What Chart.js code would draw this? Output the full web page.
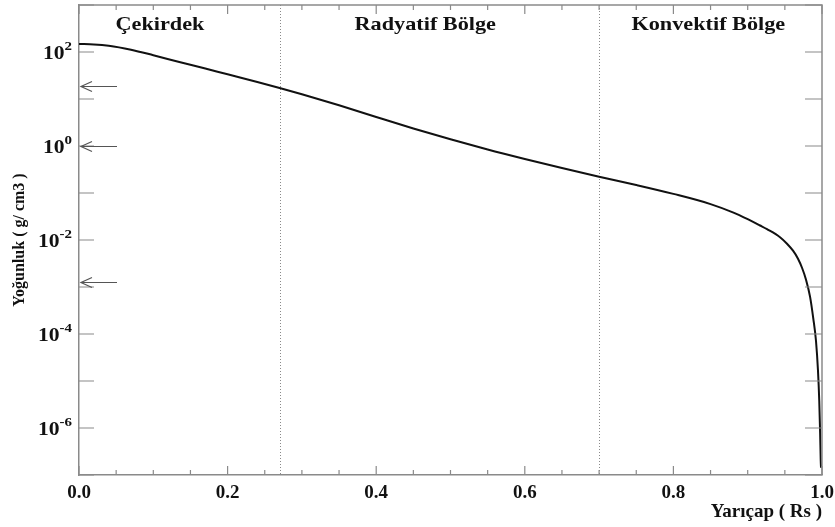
<!DOCTYPE html>
<html><head><meta charset="utf-8">
<script src="https://cdn.jsdelivr.net/npm/chart.js@4"></script>
<style>html,body{margin:0;padding:0;background:#fff;} canvas{display:block;}</style>
</head><body>
<canvas id="c" width="835" height="527"></canvas>
<script>
// ---- data ----
const radius  = [0, 0.02, 0.04, 0.07, 0.1, 0.135, 0.17, 0.2, 0.24, 0.27, 0.3, 0.35, 0.4, 0.45, 0.5, 0.55, 0.6, 0.65, 0.7, 0.75, 0.8, 0.85, 0.88, 0.9, 0.9166, 0.926, 0.9435, 0.9529, 0.961, 0.9677, 0.9731, 0.9785, 0.9839, 0.9883, 0.9919, 0.9946, 0.9963, 0.9975, 0.9983, 0.9987];
const density = [148, 145.1, 136.1, 111.9, 85.5, 61.3, 44.4, 33.5, 23.1, 17.2, 12.65, 7.35, 4.14, 2.36, 1.389, 0.842, 0.529, 0.339, 0.222, 0.148, 0.0957, 0.0581, 0.0387, 0.0277, 0.02035, 0.01698, 0.01147, 0.00834, 0.00592, 0.00400, 0.00257, 0.00143, 0.000622, 0.000212, 0.0000719, 0.0000166, 0.00000381, 0.000000757, 0.000000201, 0.000000143];
const xTickLabels = ['0.0', '0.2', '0.4', '0.6', '0.8', '1.0'];
const yTickExponents = [2, 0, -2, -4, -6];
const zoneBoundaries = [0.27, 0.70];
const zoneNames = ['Çekirdek', 'Radyatif Bölge', 'Konvektif Bölge'];
const zoneLabelRadius = [0.109, 0.466, 0.847];
const arrowValues = [19, 1, 0.0013];

const SERIF = '"Liberation Serif", "Times New Roman", serif';

function stretchText(ctx, text, x, y, font, align, sx) {
  ctx.save();
  ctx.font = font;
  ctx.textAlign = align;
  ctx.textBaseline = 'middle';
  ctx.translate(x, y);
  ctx.scale(sx, 1);
  ctx.fillText(text, 0, 0);
  ctx.restore();
}

const decorPlugin = {
  id: 'decor',
  beforeDatasetsDraw(chart) {
    const {ctx, chartArea: a, scales: {x}} = chart;
    ctx.save();
    ctx.strokeStyle = '#8a8a8a';
    ctx.lineWidth = 1;
    ctx.setLineDash([1, 2]);
    zoneBoundaries.forEach(b => {
      const px = Math.round(x.getPixelForValue(b)) + 0.5;
      ctx.beginPath(); ctx.moveTo(px, a.top); ctx.lineTo(px, a.bottom); ctx.stroke();
    });
    ctx.restore();
  },
  afterDraw(chart) {
    const {ctx, chartArea: a, scales: {x, y}} = chart;
    ctx.save();
    // top and right frame
    ctx.strokeStyle = '#8a8a8a';
    ctx.lineWidth = 1.5;
    ctx.beginPath();
    ctx.moveTo(a.left, a.top); ctx.lineTo(a.right, a.top); ctx.lineTo(a.right, a.bottom);
    ctx.stroke();
    // x ticks (inward, top and bottom)
    ctx.lineWidth = 1.2;
    for (let i = 0; i <= 20; i++) {
      const px = x.getPixelForValue(i * 0.05);
      const len = (i % 4 === 0) ? 9 : 5;
      ctx.beginPath();
      ctx.moveTo(px, a.bottom); ctx.lineTo(px, a.bottom - len);
      ctx.moveTo(px, a.top); ctx.lineTo(px, a.top + len);
      ctx.stroke();
    }
    // y ticks (each decade, left and right)
    for (let e = -7; e <= 3; e++) {
      const py = y.getPixelForValue(Math.pow(10, e));
      ctx.beginPath();
      ctx.moveTo(a.left, py); ctx.lineTo(a.left + 15, py);
      ctx.moveTo(a.right, py); ctx.lineTo(a.right - 17, py);
      ctx.stroke();
    }
    // y tick labels 10^n
    ctx.fillStyle = '#111';
    yTickExponents.forEach(e => {
      const py = y.getPixelForValue(Math.pow(10, e));
      const expTxt = e < 0 ? '-' + Math.abs(e) : String(e);
      ctx.font = 'bold 13px ' + SERIF;
      const ew = ctx.measureText(expTxt).width * 1.15;
      const right = a.left - 7;
      stretchText(ctx, expTxt, right, py - 5, 'bold 13px ' + SERIF, 'right', 1.15);
      stretchText(ctx, '10', right - ew, py + 2, 'bold 18px ' + SERIF, 'right', 1.2);
    });
    // zone labels
    zoneNames.forEach((n, i) => {
      stretchText(ctx, n, x.getPixelForValue(zoneLabelRadius[i]), a.top + 20, 'bold 19px ' + SERIF, 'center', 1.17);
    });
    // arrows
    ctx.strokeStyle = '#555';
    ctx.lineWidth = 1.2;
    arrowValues.forEach(v => {
      const py = Math.round(y.getPixelForValue(v)) + 0.5;
      ctx.beginPath();
      ctx.moveTo(a.left + 3, py); ctx.lineTo(a.left + 38, py);
      ctx.moveTo(a.left + 13, py - 5); ctx.lineTo(a.left + 2, py); ctx.lineTo(a.left + 13, py + 5);
      ctx.stroke();
    });
    ctx.restore();
  }
};

new Chart(document.getElementById('c'), {
  type: 'line',
  data: {
    datasets: [{
      data: radius.map((r, i) => ({x: r, y: density[i]})),
      borderColor: '#111',
      borderWidth: 2,
      pointRadius: 0,
      cubicInterpolationMode: 'monotone',
      fill: false
    }]
  },
  options: {
    responsive: false,
    animation: false,
    devicePixelRatio: 1,
    layout: {padding: {left: 0, right: 13, top: 5, bottom: 0}},
    plugins: {legend: {display: false}, tooltip: {enabled: false}},
    scales: {
      x: {
        type: 'linear', min: 0, max: 1,
        grid: {display: false, drawTicks: false},
        border: {display: true, color: '#8a8a8a', width: 1.5},
        ticks: {
          stepSize: 0.2, padding: 7, color: '#111', maxRotation: 0,
          font: {family: SERIF, size: 19, weight: 'bold'},
          callback: (v) => xTickLabels[Math.round(v / 0.2)] ?? ''
        },
        title: {display: true, text: 'Yarıçap ( Rs )', align: 'end', color: '#111',
          font: {family: SERIF, size: 19, weight: 'bold'}, padding: {top: 0, bottom: 4}},
        afterFit: (s) => { s.height = 52; s.paddingLeft = 0; s.paddingRight = 0; }
      },
      y: {
        type: 'logarithmic', min: 1e-7, max: 1e3,
        grid: {display: false, drawTicks: false},
        border: {display: true, color: '#8a8a8a', width: 1.5},
        ticks: {display: false},
        title: {display: true, text: 'Yoğunluk ( g/ cm3 )', color: '#111',
          font: {family: SERIF, size: 16, weight: 'bold'}, padding: {top: 10, bottom: 0}},
        afterFit: (s) => { s.width = 79; s.paddingTop = 0; s.paddingBottom = 0; }
      }
    }
  },
  plugins: [decorPlugin]
});
</script>
</body></html>
